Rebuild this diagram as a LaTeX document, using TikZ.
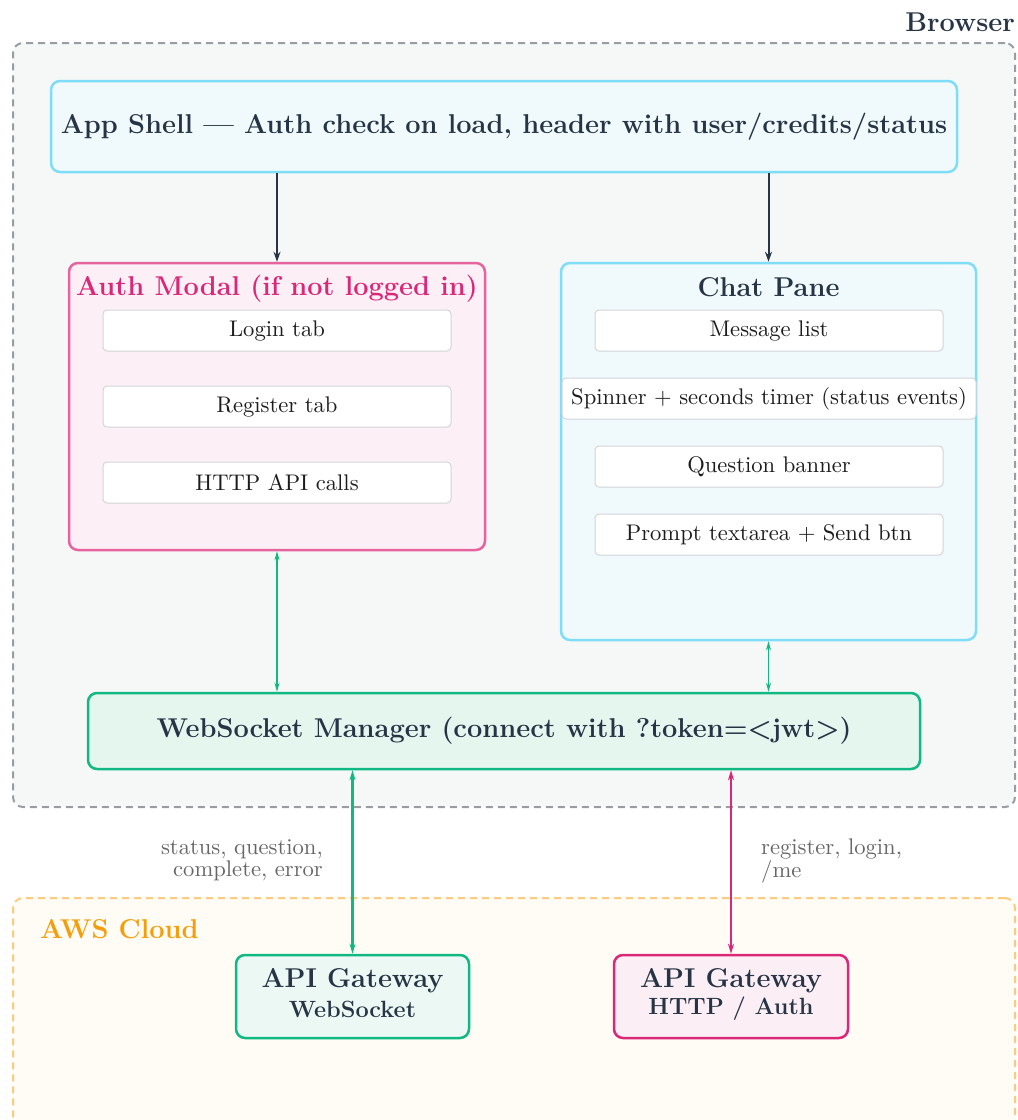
\documentclass[tikz,border=0pt]{standalone}
\usetikzlibrary{arrows.meta}
\usepackage{graphicx}
\definecolor{txt}{HTML}{263445}
\definecolor{shellfill}{HTML}{F0FAFD}
\definecolor{shellline}{HTML}{7FDDF7}
\definecolor{authfill}{HTML}{FCF0F6}
\definecolor{authline}{HTML}{E6649E}
\definecolor{pinkd}{HTML}{DB2777}
\definecolor{wsfill}{HTML}{E5F6EF}
\definecolor{gwfill}{HTML}{EBF8F3}
\definecolor{gwpfill}{HTML}{FCEEF5}
\definecolor{green}{HTML}{10B981}
\definecolor{brfill}{HTML}{F6F8F8}
\definecolor{brline}{HTML}{999CA1}
\definecolor{awsfill}{HTML}{FFFBF5}
\definecolor{awsline}{HTML}{FDCB80}
\definecolor{awstxt}{HTML}{F59E0B}
\definecolor{inline}{HTML}{D4D4D8}
\definecolor{lbl}{HTML}{666666}
\definecolor{boxtxt}{HTML}{1C1C1C}
\newcommand{\mysbx}[1]{\scalebox{2.26}{\fontsize{10}{12}\selectfont #1}}
\newcommand{\mylbl}[2]{\scalebox{2.26}{\fontsize{10}{8.3}\selectfont\begin{tabular}{@{}#1@{}}#2\end{tabular}}}
\tikzset{
  titlefont/.style={font=\fontsize{27.2}{32}\selectfont\bfseries},
  subfont/.style={font=\fontsize{23.5}{28}\selectfont\bfseries},
  container/.style={draw, line width=2pt, dash pattern=on 7pt off 5pt, rounded corners=10pt},
  bigbox/.style={draw, line width=2.5pt, rounded corners=9pt, inner sep=0pt},
  innerbox/.style={draw=inline, line width=1pt, fill=white, rounded corners=4pt, inner sep=0pt, text=boxtxt},
  lblnode/.style={text=lbl, inner sep=0pt},
  darr/.style={draw=txt, line width=2pt, -{Stealth[length=10pt,width=7pt]}},
  garr/.style={draw=green, line width=1.6pt, {Stealth[length=9pt,width=5pt]}-{Stealth[length=9pt,width=5pt]}},
  barr/.style={line width=2.5pt, {Stealth[length=10pt,width=6pt]}-{Stealth[length=10pt,width=6pt]}},
}
\begin{document}
\begin{tikzpicture}[x=1pt,y=-1pt]
\useasboundingbox (0,0) rectangle (1018,1120);
\begin{scope}
\clip (0,0) rectangle (1018,1120);
% containers
\node[container, draw=brline, fill=brfill, minimum width=1002pt, minimum height=764pt, inner sep=0pt] (browser) at (514,425) {};
\node[container, draw=awsline, fill=awsfill, minimum width=1002pt, minimum height=300pt, inner sep=0pt] (aws) at (514,1048) {};
\end{scope}
\node[titlefont, text=txt, anchor=east, inner sep=0pt] (browserlbl) at (1015,22) {Browser};
\node[titlefont, text=awstxt, anchor=west, inner sep=0pt] (awslbl) at (40,929) {AWS Cloud};

% app shell
\node[bigbox, draw=shellline, fill=shellfill, minimum width=906pt, minimum height=91pt, titlefont, text=txt] (shell) at (504,126.5) {App Shell --- Auth check on load, header with user/credits/status};

% auth modal
\node[bigbox, draw=authline, fill=authfill, minimum width=416pt, minimum height=287pt] (auth) at (277,406.5) {};
\node[titlefont, text=pinkd] (authtitle) at (277,289) {Auth Modal (if not logged in)};
\node[innerbox, minimum width=348pt, minimum height=41pt] (login) at (277,330.5) {\mysbx{Login tab}};
\node[innerbox, minimum width=348pt, minimum height=41pt] (register) at (277,406.5) {\mysbx{Register tab}};
\node[innerbox, minimum width=348pt, minimum height=41pt] (http) at (277,482.5) {\mysbx{HTTP API calls}};

% chat pane
\node[bigbox, draw=shellline, fill=shellfill, minimum width=415pt, minimum height=377pt] (chat) at (768.5,451.5) {};
\node[titlefont, text=txt] (chattitle) at (768.5,287) {Chat Pane};
\node[innerbox, minimum width=348pt, minimum height=41pt] (msg) at (769,330.5) {\mysbx{Message list}};
\node[innerbox, minimum width=414pt, minimum height=41pt] (spin) at (769,398.5) {\mysbx{Spinner + seconds timer (status events)}};
\node[innerbox, minimum width=348pt, minimum height=41pt] (qb) at (769,466.5) {\mysbx{Question banner}};
\node[innerbox, minimum width=348pt, minimum height=41pt] (prompt) at (769,534.5) {\mysbx{Prompt textarea + Send btn}};

% websocket manager
\node[bigbox, draw=green, fill=wsfill, minimum width=832pt, minimum height=76pt, titlefont, text=txt] (wsm) at (504,731) {WebSocket Manager (connect with ?token=<jwt>)};

% gateways
\node[bigbox, draw=green, fill=gwfill, minimum width=233pt, minimum height=83pt] (gw1) at (352.5,996.5) {};
\node[titlefont, text=txt, inner sep=0pt] (gw1a) at (352.5,981) {API Gateway};
\node[subfont, text=txt, inner sep=0pt] (gw1b) at (352.5,1009) {WebSocket};
\node[bigbox, draw=pinkd, fill=gwpfill, minimum width=234pt, minimum height=83pt] (gw2) at (731,996.5) {};
\node[titlefont, text=txt, inner sep=0pt] (gw2a) at (731,981) {API Gateway};
\node[subfont, text=txt, inner sep=0pt] (gw2b) at (731,1009) {HTTP / Auth};

% connectors
\draw[darr] (shell.south -| auth.north) -- (auth.north);
\draw[darr] (shell.south -| chat.north) -- (chat.north);
\draw[garr] (auth.south) -- (wsm.north -| auth.south);
\draw[garr] (chat.south) -- (wsm.north -| chat.south);
\draw[barr, draw=green] (wsm.south -| gw1.north) -- (gw1.north);
\draw[barr, draw=pinkd] (wsm.south -| gw2.north) -- (gw2.north);

% labels
\node[lblnode, anchor=east] (lbl1) at (323,861) {\mylbl{r}{status, question,\\complete, error}};
\node[lblnode, anchor=west] (lbl2) at (761,861) {\mylbl{l}{register, login,\\/me}};
\end{tikzpicture}
\end{document}
